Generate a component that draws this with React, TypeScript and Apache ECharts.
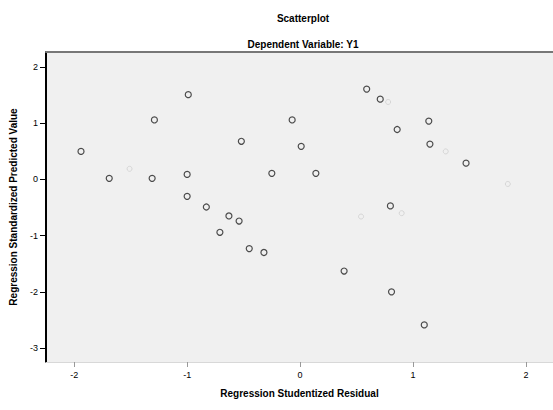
import React, { useEffect, useRef } from "react";
import * as echarts from "echarts";

// Regression Studentized Residual (x) vs Regression Standardized Predicted Value (y)
const residuals = [
  -1.94, -1.69, -1.29, -1.31, -0.99, -1.0, -1.0, -0.83, -0.71, -0.63, -0.54, -0.52,
  -0.45, -0.32, -0.25, -0.07, 0.01, 0.14, 0.39, 0.59, 0.71, 0.86, 0.8, 0.81, 1.14,
  1.15, 1.47, 1.1,
];
const predicted = [
  0.5, 0.02, 1.06, 0.02, 1.51, 0.09, -0.3, -0.49, -0.94, -0.65, -0.74, 0.68, -1.23,
  -1.3, 0.11, 1.06, 0.59, 0.11, -1.63, 1.61, 1.43, 0.89, -0.47, -2.0, 1.04, 0.63,
  0.29, -2.59,
];
// faintly drawn cases
const faintResiduals = [-1.51, 0.78, 1.29, 1.84, 0.54, 0.9];
const faintPredicted = [0.19, 1.38, 0.5, -0.08, -0.66, -0.6];

const xTicks = [-2, -1, 0, 1, 2];
const yTicks = [-3, -2, -1, 0, 1, 2];

const titleText = "Scatterplot";
const subtitleText = "Dependent Variable: Y1";
const xName = "Regression Studentized Residual";
const yName = "Regression Standardized Predicted Value";

export default function App() {
  const ref = useRef<HTMLDivElement>(null);
  useEffect(() => {
    if (!ref.current) return;
    const chart = echarts.init(ref.current, null, { renderer: "svg" });
    const font = "'Liberation Sans', Arial, sans-serif";
    const main = residuals.map((x, i) => [x, predicted[i]]);
    const faint = faintResiduals.map((x, i) => [x, faintPredicted[i]]);
    chart.setOption({
      animation: false,
      backgroundColor: "#ffffff",
      title: [
        {
          text: titleText,
          left: 298,
          top: 8,
          textAlign: "center",
          textStyle: { fontFamily: font, fontSize: 10, fontWeight: "bold", color: "#000" },
        },
        {
          text: subtitleText,
          left: 298,
          top: 34,
          textAlign: "center",
          textStyle: { fontFamily: font, fontSize: 10, fontWeight: "bold", color: "#000" },
        },
      ],
      grid: {
        left: 44,
        top: 52,
        right: 0,
        bottom: 48,
        show: true,
        backgroundColor: "#f0f0f0",
        borderWidth: 0,
      },
      xAxis: [
        {
          type: "value",
          min: -2.25,
          max: 2.24,
          position: "bottom",
          name: xName,
          nameLocation: "middle",
          nameGap: 26,
          nameTextStyle: { fontFamily: font, fontSize: 10, fontWeight: "bold", color: "#000" },
          axisLine: { show: true, onZero: false, lineStyle: { color: "#d8d8d8", width: 1 } },
          axisTick: { show: true, customValues: xTicks, length: 5, lineStyle: { color: "#999" } },
          axisLabel: {
            customValues: xTicks,
            fontFamily: font,
            fontSize: 9,
            color: "#000",
            margin: 8,
          },
          splitLine: { show: false },
        },
        {
          type: "value",
          min: -2.25,
          max: 2.24,
          position: "top",
          axisLine: { show: true, onZero: false, lineStyle: { color: "#777", width: 2 } },
          axisTick: { show: false },
          axisLabel: { show: false },
          splitLine: { show: false },
        },
      ],
      yAxis: {
        type: "value",
        min: -3.25,
        max: 2.27,
        position: "left",
        name: yName,
        nameLocation: "middle",
        nameGap: 28,
        nameTextStyle: { fontFamily: font, fontSize: 10, fontWeight: "bold", color: "#000" },
        axisLine: { show: true, onZero: false, lineStyle: { color: "#000", width: 2 } },
        axisTick: { show: true, customValues: yTicks, length: 6, lineStyle: { color: "#000" } },
        axisLabel: {
          customValues: yTicks,
          fontFamily: font,
          fontSize: 9,
          color: "#000",
          margin: 8,
        },
        splitLine: { show: false },
      },
      series: [
        {
          type: "scatter",
          xAxisIndex: 0,
          data: main,
          symbol: "circle",
          symbolSize: 6,
          itemStyle: { color: "rgba(0,0,0,0)", borderColor: "#222", borderWidth: 1.2 },
        },
        {
          type: "scatter",
          xAxisIndex: 0,
          data: faint,
          symbol: "circle",
          symbolSize: 5,
          itemStyle: { color: "rgba(0,0,0,0)", borderColor: "#cfcfcf", borderWidth: 1 },
        },
      ],
    });
    return () => chart.dispose();
  }, []);
  return (
    <div
      ref={ref}
      style={{ position: "fixed", left: 0, top: 0, width: 553, height: 410 }}
    />
  );
}
